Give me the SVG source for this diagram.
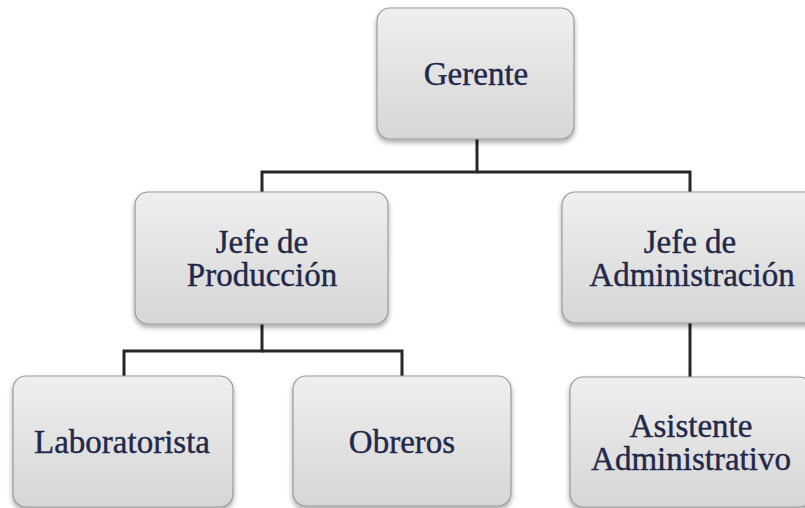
<svg xmlns="http://www.w3.org/2000/svg" width="805" height="508" viewBox="0 0 805 508">
<defs>
<linearGradient id="g" x1="0" y1="0" x2="0" y2="1">
<stop offset="0" stop-color="#EFEFEF"/>
<stop offset="1" stop-color="#D6D6D6"/>
</linearGradient>
<filter id="sh" x="-10%" y="-10%" width="120%" height="130%">
<feDropShadow dx="0" dy="3" stdDeviation="2.5" flood-color="#000" flood-opacity="0.35"/>
</filter>
<style>
.box{fill:url(#g);stroke:#9A9A9A;stroke-width:1.2;filter:url(#sh)}
.t{font-family:"Liberation Serif","Times New Roman",serif;font-size:33px;fill:#1F2A4A;stroke:#1F2A4A;stroke-width:0.4;text-anchor:middle}
.c{fill:none;stroke:#262626;stroke-width:3}
</style>
</defs>
<rect width="805" height="508" fill="#FFFFFF"/>
<g id="connectors">
<polyline class="c" points="477,139 477,172 262,172 262,192"/>
<polyline class="c" points="477,172 690,172 690,192"/>
<polyline class="c" points="262,324 262,351 124,351 124,376"/>
<polyline class="c" points="262,351 402,351 402,376"/>
<line class="c" x1="690" y1="323" x2="690" y2="377"/>
</g>
<g id="gerente">
<rect class="box" x="377" y="8" width="197" height="131" rx="13"/>
<text class="t" x="476" y="85">Gerente</text>
</g>
<g id="jefe-produccion">
<rect class="box" x="135" y="192" width="253" height="132" rx="13"/>
<text class="t" x="262" y="253">Jefe de</text>
<text class="t" x="262" y="286">Producción</text>
</g>
<g id="jefe-administracion">
<rect class="box" x="562" y="192" width="256" height="131" rx="13"/>
<text class="t" x="690" y="253">Jefe de</text>
<text class="t" x="692" y="286">Administración</text>
</g>
<g id="laboratorista">
<rect class="box" x="13" y="376" width="220" height="131" rx="13"/>
<text class="t" x="122" y="453">Laboratorista</text>
</g>
<g id="obreros">
<rect class="box" x="293" y="376" width="218" height="130" rx="13"/>
<text class="t" x="402" y="453">Obreros</text>
</g>
<g id="asistente">
<rect class="box" x="570" y="377" width="242" height="130" rx="13"/>
<text class="t" x="691" y="437">Asistente</text>
<text class="t" x="691" y="470">Administrativo</text>
</g>
</svg>
